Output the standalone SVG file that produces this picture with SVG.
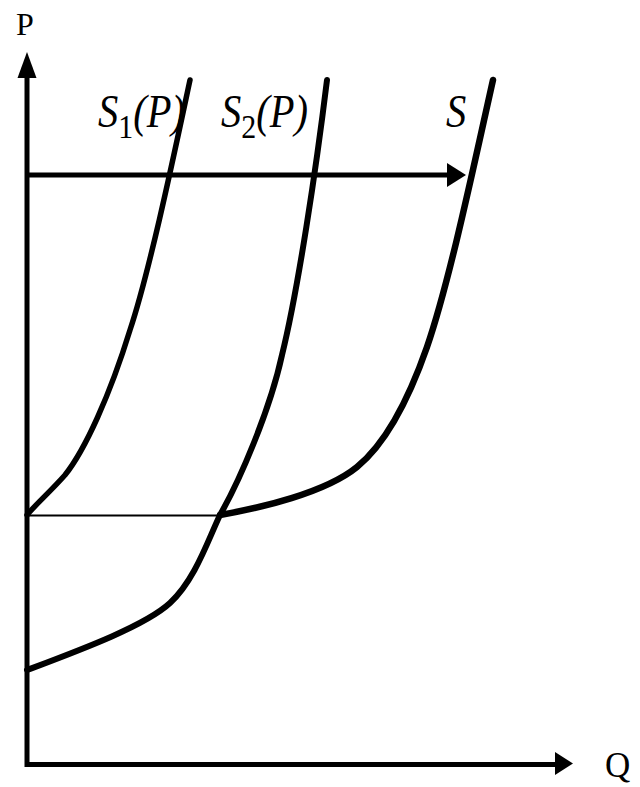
<svg xmlns="http://www.w3.org/2000/svg" width="640" height="787" viewBox="0 0 640 787">
<style>
.ax{stroke:#000;stroke-width:5;fill:none}
.cv{stroke:#000;fill:none;stroke-linecap:round;stroke-linejoin:round}
.head{fill:#000}
.lbl{font-family:"Liberation Serif","Times New Roman",serif;fill:#000;font-size:46px;font-style:italic}
.sub{font-size:34px;font-style:normal}
.rm{font-family:"Liberation Serif","Times New Roman",serif;fill:#000}
</style>
<rect width="640" height="787" fill="#fff"/>
<g id="axes">
<line class="ax" x1="27" y1="767" x2="27" y2="74"/>
<polygon class="head" points="27,52 17.5,78 36.5,78"/>
<line class="ax" x1="25" y1="764.5" x2="556" y2="764.5"/>
<polygon class="head" points="573,763.5 555,752 555,775"/>
<text class="rm" x="16" y="35" font-size="32">P</text>
<text class="rm" x="605" y="777" font-size="35">Q</text>
</g>
<g id="connectors">
<line class="ax" x1="27" y1="175" x2="449" y2="175"/>
<polygon class="head" points="466,175 447,163 447,187"/>
<line stroke="#000" stroke-width="2" x1="27" y1="515.5" x2="222" y2="515.5"/>
</g>
<g id="S1">
<path class="cv" stroke-width="5.5" d="M190,80 C175,150 150,270 130,330 C110,395 85,450 65,475 C50,492 35,505 27,515"/>
<text class="lbl" transform="translate(100,0) scale(0.88,1)"><tspan x="-2.3" y="127">S</tspan><tspan class="sub" x="20.7" y="138">1</tspan><tspan x="37.7" y="127">(P)</tspan></text>
</g>
<g id="S2">
<path class="cv" stroke-width="6" d="M327,80 C316,170 298,290 282,355 C270,410 240,480 220,515 C208,540 195,580 170,603 C145,626 80,650 27,670"/>
<text class="lbl" transform="translate(221,0) scale(0.88,1)"><tspan x="0" y="127">S</tspan><tspan class="sub" x="22.9" y="138">2</tspan><tspan x="40" y="127">(P)</tspan></text>
</g>
<g id="S">
<path class="cv" stroke-width="6.5" d="M493,80 C475,160 450,280 427,347 C412,390 390,440 357,467 C325,493 260,508 220,515"/>
<text class="lbl" transform="translate(446,0) scale(0.88,1)" x="0" y="127" font-size="44">S</text>
</g>
</svg>
